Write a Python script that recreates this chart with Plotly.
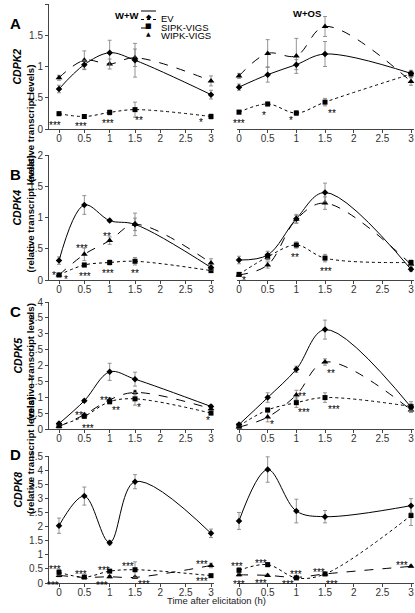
import plotly.graph_objects as go

W, H = 415, 613

# ---------------- data ----------------
time_h = [0, 0.5, 1, 1.5, 3]
x_ticks = [0, 0.5, 1, 1.5, 2, 2.5, 3]
x_ticktext = ["0", "0.5", "1", "1.5", "2", "2.5", "3"]
series_names = ["EV", "SIPK-VIGS", "WIPK-VIGS"]
genes = ["CDPK2", "CDPK4", "CDPK5", "CDPK8"]
panel_letters = ["A", "B", "C", "D"]
conditions = ["W+W", "W+OS"]
y_max = [2, 2, 4, 4.5]

# CDPK2
cdpk2_ww_ev = [0.64, 1.03, 1.22, 1.10, 0.55]
cdpk2_ww_ev_err = [0.06, 0.07, 0.20, 0.27, 0.07]
cdpk2_ww_sipk = [0.245, 0.20, 0.265, 0.31, 0.20]
cdpk2_ww_sipk_err = [0.03, 0.02, 0.04, 0.12, 0.04]
cdpk2_ww_wipk = [0.82, 1.10, 1.04, 1.14, 0.77]
cdpk2_ww_wipk_err = [0.04, 0.15, 0.08, 0.14, 0.08]
cdpk2_os_ev = [0.67, 0.87, 1.03, 1.20, 0.89]
cdpk2_os_ev_err = [0.05, 0.12, 0.08, 0.20, 0.05]
cdpk2_os_sipk = [0.27, 0.40, 0.255, 0.43, 0.88]
cdpk2_os_sipk_err = [0.03, 0.03, 0.04, 0.06, 0.05]
cdpk2_os_wipk = [0.85, 1.21, 1.17, 1.64, 0.76]
cdpk2_os_wipk_err = [0.04, 0.22, 0.28, 0.16, 0.06]

# CDPK4
cdpk4_ww_ev = [0.31, 1.20, 0.95, 0.89, 0.20]
cdpk4_ww_ev_err = [0.06, 0.15, 0.02, 0.18, 0.04]
cdpk4_ww_sipk = [0.08, 0.24, 0.28, 0.30, 0.15]
cdpk4_ww_sipk_err = [0.02, 0.03, 0.04, 0.06, 0.03]
cdpk4_ww_wipk = [0.08, 0.41, 0.63, 0.89, 0.27]
cdpk4_ww_wipk_err = [0.02, 0.10, 0.06, 0.10, 0.07]
cdpk4_os_ev = [0.32, 0.40, 0.98, 1.40, 0.17]
cdpk4_os_ev_err = [0.06, 0.06, 0.07, 0.15, 0.03]
cdpk4_os_sipk = [0.09, 0.37, 0.56, 0.35, 0.28]
cdpk4_os_sipk_err = [0.02, 0.05, 0.05, 0.06, 0.04]
cdpk4_os_wipk = [0.08, 0.24, 0.97, 1.23, 0.25]
cdpk4_os_wipk_err = [0.02, 0.05, 0.06, 0.10, 0.04]

# CDPK5
cdpk5_ww_ev = [0.17, 0.89, 1.80, 1.57, 0.71]
cdpk5_ww_ev_err = [0.04, 0.04, 0.27, 0.22, 0.05]
cdpk5_ww_sipk = [0.10, 0.40, 0.86, 0.95, 0.50]
cdpk5_ww_sipk_err = [0.03, 0.06, 0.07, 0.20, 0.04]
cdpk5_ww_wipk = [0.08, 0.45, 0.92, 1.15, 0.64]
cdpk5_ww_wipk_err = [0.03, 0.05, 0.06, 0.07, 0.05]
cdpk5_os_ev = [0.14, 0.99, 1.88, 3.13, 0.69]
cdpk5_os_ev_err = [0.04, 0.15, 0.10, 0.30, 0.10]
cdpk5_os_sipk = [0.10, 0.60, 0.83, 0.99, 0.71]
cdpk5_os_sipk_err = [0.04, 0.05, 0.15, 0.15, 0.15]
cdpk5_os_wipk = [0.06, 0.375, 1.07, 2.11, 0.60]
cdpk5_os_wipk_err = [0.03, 0.15, 0.15, 0.10, 0.08]

# CDPK8
cdpk8_ww_ev = [2.03, 3.08, 1.43, 3.59, 1.76]
cdpk8_ww_ev_err = [0.27, 0.32, 0.08, 0.25, 0.15]
cdpk8_ww_sipk = [0.38, 0.21, 0.42, 0.47, 0.26]
cdpk8_ww_sipk_err = [0.10, 0.05, 0.05, 0.28, 0.04]
cdpk8_ww_wipk = [0.27, 0.20, 0.22, 0.20, 0.62]
cdpk8_ww_wipk_err = [0.05, 0.04, 0.04, 0.04, 0.08]
cdpk8_os_ev = [2.20, 4.02, 2.55, 2.35, 2.74]
cdpk8_os_ev_err = [0.30, 0.45, 0.42, 0.22, 0.25]
cdpk8_os_sipk = [0.45, 0.65, 0.18, 0.32, 2.39]
cdpk8_os_sipk_err = [0.10, 0.07, 0.04, 0.04, 0.35]
cdpk8_os_wipk = [0.29, 0.27, 0.20, 0.32, 0.59]
cdpk8_os_wipk_err = [0.04, 0.04, 0.03, 0.04, 0.04]

# significance labels: (time, level, text)
sig_cdpk2_ww = [(-0.07, 0.10, "***"), (0.43, 0.08, "***"), (0.96, 0.14, "***"), (1.58, 0.19, "**"), (2.81, 0.15, "*")]
sig_cdpk2_os = [(0.0, 0.14, "***"), (0.43, 0.27, "*"), (0.9, 0.18, "*"), (1.62, 0.30, "**")]
sig_cdpk4_ww = [(-0.09, 0.12, "*"), (0.13, 0.05, "*"), (0.45, 0.55, "***"), (0.94, 0.75, "**"),
                (0.51, 0.11, "***"), (0.97, 0.15, "***"), (1.5, 0.16, "**")]
sig_cdpk4_os = [(-0.12, 0.14, "*"), (0.09, 0.04, "*"), (0.98, 0.41, "**"), (1.51, 0.18, "***")]
sig_cdpk5_ww = [(0.39, 0.52, "**"), (0.58, 0.12, "***"), (0.89, 0.99, "**"), (1.12, 0.67, "**"),
                (1.58, 0.77, "*"), (2.95, 0.36, "*")]
sig_cdpk5_os = [(0.58, 0.25, "*"), (1.1, 1.13, "**"), (1.13, 0.61, "***"), (1.61, 1.83, "**"), (1.66, 0.71, "***")]
sig_cdpk8_ww = [(-0.08, 0.60, "***"), (0.43, 0.39, "***"), (0.89, 0.55, "***"), (1.37, 0.69, "***"),
                (2.82, 0.75, "***"), (-0.11, 0.01, "***"), (0.32, -0.03, "***"), (0.84, 0.01, "***"),
                (1.68, 0.07, "***"), (2.82, 0.16, "***")]
sig_cdpk8_os = [(-0.03, 0.69, "***"), (0.38, 0.78, "***"), (1.0, 0.39, "***"), (1.4, 0.49, "***"),
                (2.85, 0.71, "***"), (0.0, 0.07, "***"), (0.39, 0.09, "***"), (0.86, 0.04, "***"),
                (1.62, 0.06, "***")]

data = {
    ("CDPK2", "W+W"): (cdpk2_ww_ev, cdpk2_ww_ev_err, cdpk2_ww_sipk, cdpk2_ww_sipk_err, cdpk2_ww_wipk, cdpk2_ww_wipk_err, sig_cdpk2_ww),
    ("CDPK2", "W+OS"): (cdpk2_os_ev, cdpk2_os_ev_err, cdpk2_os_sipk, cdpk2_os_sipk_err, cdpk2_os_wipk, cdpk2_os_wipk_err, sig_cdpk2_os),
    ("CDPK4", "W+W"): (cdpk4_ww_ev, cdpk4_ww_ev_err, cdpk4_ww_sipk, cdpk4_ww_sipk_err, cdpk4_ww_wipk, cdpk4_ww_wipk_err, sig_cdpk4_ww),
    ("CDPK4", "W+OS"): (cdpk4_os_ev, cdpk4_os_ev_err, cdpk4_os_sipk, cdpk4_os_sipk_err, cdpk4_os_wipk, cdpk4_os_wipk_err, sig_cdpk4_os),
    ("CDPK5", "W+W"): (cdpk5_ww_ev, cdpk5_ww_ev_err, cdpk5_ww_sipk, cdpk5_ww_sipk_err, cdpk5_ww_wipk, cdpk5_ww_wipk_err, sig_cdpk5_ww),
    ("CDPK5", "W+OS"): (cdpk5_os_ev, cdpk5_os_ev_err, cdpk5_os_sipk, cdpk5_os_sipk_err, cdpk5_os_wipk, cdpk5_os_wipk_err, sig_cdpk5_os),
    ("CDPK8", "W+W"): (cdpk8_ww_ev, cdpk8_ww_ev_err, cdpk8_ww_sipk, cdpk8_ww_sipk_err, cdpk8_ww_wipk, cdpk8_ww_wipk_err, sig_cdpk8_ww),
    ("CDPK8", "W+OS"): (cdpk8_os_ev, cdpk8_os_ev_err, cdpk8_os_sipk, cdpk8_os_sipk_err, cdpk8_os_wipk, cdpk8_os_wipk_err, sig_cdpk8_os),
}

# ---------------- layout geometry (pixels) ----------------
FONT = "Liberation Sans, Arial, sans-serif"
row_px = [(4, 129), (155, 280), (302, 429), (456, 583)]  # (top, bottom) of y axis
left_dom_px = (49, 214)
left_zero, left_three = 59, 211
right_dom_px = (237, 414)
right_zero, right_three = 239, 411


def xrange_for(dom, z, t):
    s = (t - z) / 3.0
    return [(dom[0] - z) / s, (dom[1] - z) / s]


def px2x(p):
    return p / W


def px2y(p):
    return 1 - p / H


styles = {
    "EV": dict(dash="solid", symbol="diamond", msize=5, glyph="◆", gsize=7),
    "SIPK-VIGS": dict(dash="dot", symbol="square", msize=5, glyph="■", gsize=7),
    "WIPK-VIGS": dict(dash="dash", symbol="triangle-up", msize=6, glyph="▲", gsize=6),
}

fig = go.Figure()
layout = {}
annotations = []
shapes = []

idx = 0
for r, gene in enumerate(genes):
    top, bot = row_px[r]
    for c, cond in enumerate(conditions):
        idx += 1
        xa = "x" if idx == 1 else f"x{idx}"
        ya = "y" if idx == 1 else f"y{idx}"
        xkey = "xaxis" if idx == 1 else f"xaxis{idx}"
        ykey = "yaxis" if idx == 1 else f"yaxis{idx}"
        if c == 0:
            dom = left_dom_px
            xr = xrange_for(left_dom_px, left_zero, left_three)
        else:
            dom = right_dom_px
            xr = xrange_for(right_dom_px, right_zero, right_three)
        ev, ev_e, si, si_e, wi, wi_e, sig = data[(gene, cond)]
        for name, vals, errs in [("WIPK-VIGS", wi, wi_e), ("SIPK-VIGS", si, si_e), ("EV", ev, ev_e)]:
            st = styles[name]
            fig.add_trace(go.Scatter(
                x=time_h, y=vals, name=name, xaxis=xa, yaxis=ya,
                mode="lines+markers",
                line=dict(color="black", width=1, dash=st["dash"], shape="spline", smoothing=1.0),
                marker=dict(symbol=st["symbol"], size=st["msize"], color="black"),
                error_y=dict(type="data", array=errs, visible=True, color="#7a7a7a", thickness=0.8, width=2),
                cliponaxis=False,
                showlegend=False,
            ))
        layout[xkey] = dict(
            domain=[px2x(dom[0]), px2x(dom[1])], range=xr, anchor=ya, automargin=False,
            tickvals=x_ticks, ticktext=x_ticktext, ticks="outside", ticklen=3, tickwidth=1,
            tickcolor="#444", showline=True, linecolor="#444", linewidth=1,
            showgrid=False, zeroline=False, ticklabelstandoff=-3,
            tickfont=dict(family=FONT, size=10, color="#333"), fixedrange=True,
        )
        yt = [i * 0.5 for i in range(int(round(y_max[r] / 0.5)) + 1)]
        layout[ykey] = dict(
            domain=[px2y(bot), px2y(top)], range=[0, y_max[r]], anchor=xa, automargin=False,
            tickvals=yt, ticktext=[f"{v:g}" for v in yt],
            ticks="outside" if c == 0 else "", ticklen=3, tickcolor="#444",
            showline=(c == 0), linecolor="#444", linewidth=1,
            showticklabels=(c == 0), showgrid=False, zeroline=False,
            tickfont=dict(family=FONT, size=10, color="#333"), fixedrange=True,
        )
        for (tx, ty, txt) in sig:
            annotations.append(dict(
                x=tx, y=ty, xref=xa, yref=ya, text=txt, showarrow=False,
                font=dict(family=FONT, size=10, color="black"), yshift=-3,
            ))

    # panel letter and y title
    annotations.append(dict(x=px2x(8), y=px2y(top + 9 if r else 13), xref="paper", yref="paper",
                            text=f"<b>{panel_letters[r]}</b>", showarrow=False,
                            font=dict(family=FONT, size=15, color="black")))
    mid = (top + bot) / 2
    annotations.append(dict(x=px2x(9), y=px2y(mid - (20 if r == 0 else 10)), xref="paper", yref="paper",
                            text=f"<b><i>{gene}</i></b>", showarrow=False, textangle=-90,
                            font=dict(family=FONT, size=10.5, color="black")))
    annotations.append(dict(x=px2x(22.5), y=px2y(mid - 3), xref="paper", yref="paper",
                            text="<b>(relative transcript levels)</b>", showarrow=False, textangle=-90,
                            font=dict(family=FONT, size=9.7, color="black")))

# legend (drawn as key shapes + labels)
legend_rows_px = [11, 19.5, 28]
for name, ypx in zip(series_names, legend_rows_px):
    st = styles[name]
    shapes.append(dict(type="line", xref="paper", yref="paper",
                       x0=px2x(141), x1=px2x(156), y0=px2y(ypx), y1=px2y(ypx),
                       line=dict(color="black", width=1, dash=st["dash"])))
    annotations.append(dict(x=px2x(148.5), y=px2y(ypx), xref="paper", yref="paper", text=st["glyph"],
                            showarrow=False, font=dict(family="DejaVu Sans", size=st["gsize"], color="black")))
    annotations.append(dict(x=px2x(159), y=px2y(ypx), xref="paper", yref="paper", text=name,
                            xanchor="left", showarrow=False,
                            font=dict(family=FONT, size=9.5, color="black")))

annotations.append(dict(x=px2x(113), y=px2y(8), xref="paper", yref="paper", text="<b>W+W</b>",
                        showarrow=False, font=dict(family=FONT, size=9.5, color="black")))
annotations.append(dict(x=px2x(323), y=px2y(6), xref="paper", yref="paper", text="<b>W+OS</b>",
                        showarrow=False, font=dict(family=FONT, size=9.5, color="black")))
annotations.append(dict(x=px2x(216), y=px2y(607.5), xref="paper", yref="paper",
                        text="Time after elicitation (h)", showarrow=False,
                        font=dict(family=FONT, size=9.5, color="#222")))

fig.update_layout(
    width=W, height=H, margin=dict(l=0, r=0, t=0, b=0, autoexpand=False),
    paper_bgcolor="white", plot_bgcolor="white",
    annotations=annotations, shapes=shapes, showlegend=False,
    **layout,
)

fig.write_html("out.html", config={"displayModeBar": False, "staticPlot": True},
               post_script="document.body.style.margin='0px';document.body.style.padding='0px';")
